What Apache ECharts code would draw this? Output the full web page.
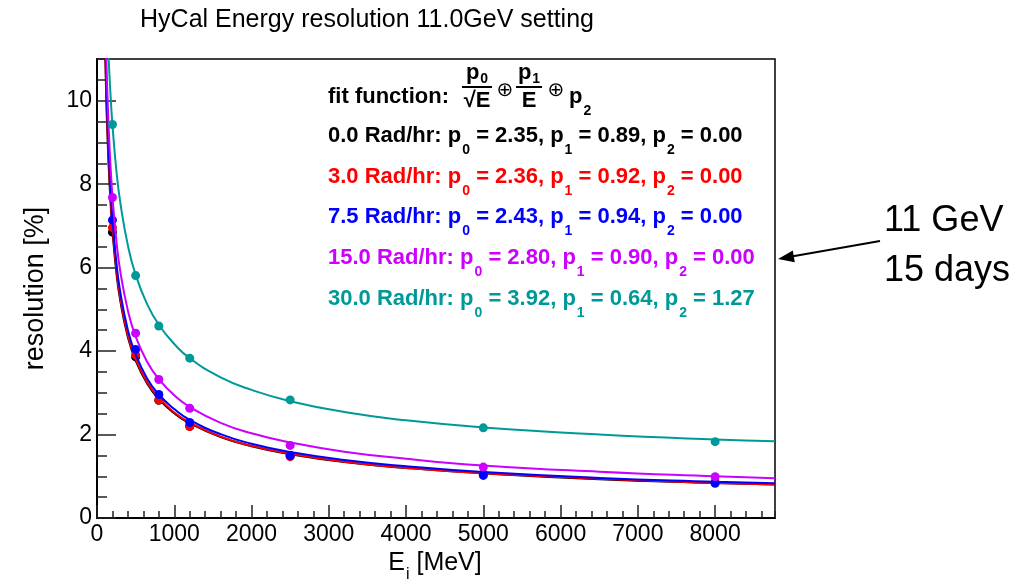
<!DOCTYPE html>
<html>
<head>
<meta charset="utf-8">
<script src="https://cdn.jsdelivr.net/npm/echarts@6/dist/echarts.min.js"></script>
<style>
  html, body { margin: 0; padding: 0; background: #fff; }
  #main { width: 1032px; height: 579px; }
</style>
</head>
<body>
<div id="main"></div>
<script>
// measured points (x in MeV, resolution in %)
var energies = [200, 500, 800, 1200, 2500, 5000, 8000];
var res00 = [6.85, 3.86, 2.82, 2.20, 1.50, 1.05, 0.85];
var res30 = [6.96, 3.91, 2.83, 2.19, 1.47, 1.05, 0.85];
var res75 = [7.14, 4.04, 2.96, 2.29, 1.49, 1.02, 0.83];
var res150 = [7.68, 4.43, 3.32, 2.63, 1.74, 1.22, 0.99];
var res300 = [9.43, 5.81, 4.60, 3.83, 2.83, 2.16, 1.83];

// fit curves read along x
var curveE = [100, 120, 140, 160, 180, 200, 250, 300, 400, 500, 650, 800, 1000, 1200, 1600, 2000, 2500, 3200, 4000, 5000, 6500, 8000, 8775];
var fit00 = [11.59, 10.05, 8.94, 8.09, 7.42, 6.89, 5.90, 5.22, 4.33, 3.77, 3.22, 2.85, 2.51, 2.27, 1.94, 1.72, 1.53, 1.34, 1.20, 1.07, 0.93, 0.84, 0.80];
var fit30 = [11.85, 10.26, 9.11, 8.24, 7.55, 7.00, 5.99, 5.29, 4.38, 3.81, 3.25, 2.88, 2.53, 2.29, 1.95, 1.73, 1.54, 1.35, 1.20, 1.07, 0.94, 0.84, 0.80];
var fit75 = [12.14, 10.52, 9.34, 8.45, 7.75, 7.18, 6.14, 5.43, 4.50, 3.92, 3.34, 2.96, 2.61, 2.35, 2.01, 1.78, 1.58, 1.39, 1.24, 1.10, 0.96, 0.87, 0.83];
var fit150 = [12.63, 11.03, 9.87, 8.98, 8.28, 7.71, 6.66, 5.93, 4.97, 4.35, 3.74, 3.33, 2.94, 2.66, 2.28, 2.03, 1.81, 1.59, 1.42, 1.26, 1.11, 1.00, 0.95];
var fit300 = [14.01, 12.57, 11.50, 10.66, 9.98, 9.42, 8.34, 7.58, 6.53, 5.83, 5.12, 4.63, 4.17, 3.83, 3.37, 3.07, 2.80, 2.54, 2.34, 2.17, 2.00, 1.88, 1.84];

// fit parameters shown in the text box
var radLabels = ['0.0', '3.0', '7.5', '15.0', '30.0'];
var p0 = ['2.35', '2.36', '2.43', '2.80', '3.92'];
var p1 = ['0.89', '0.92', '0.94', '0.90', '0.64'];
var p2 = ['0.00', '0.00', '0.00', '0.00', '1.27'];
var colors = ['#000000', '#ff0000', '#0000ff', '#cc00ff', '#009999'];

var FONT = '"Liberation Sans", Arial, Helvetica, sans-serif';

function zip(xs, ys) {
    return xs.map(function (x, i) { return [x, ys[i]]; });
}

var pts = [res00, res30, res75, res150, res300];
var fits = [fit00, fit30, fit75, fit150, fit300];

var series = [];
for (var k = 0; k < 5; k++) {
    series.push({
        type: 'line',
        data: zip(curveE, fits[k]),
        showSymbol: false,
        smooth: true,
        clip: true,
        lineStyle: { color: colors[k], width: 2 },
        z: 2 + k
    });
    series.push({
        type: 'scatter',
        data: zip(energies, pts[k]),
        symbolSize: 9,
        itemStyle: { color: colors[k], opacity: 1 },
        z: 2 + k
    });
}

// text box lines
var rich = {
    m: { fontSize: 22, fontWeight: 'bold', fontFamily: FONT, lineHeight: 22, verticalAlign: 'top' },
    s: { fontSize: 14, fontWeight: 'bold', fontFamily: FONT, lineHeight: 14, verticalAlign: 'top', padding: [18, 0, 0, 1] }
};
var lineTops = [125, 166, 206, 247, 288];
var graphics = [];
for (var j = 0; j < 5; j++) {
    graphics.push({
        type: 'text', x: 328, y: lineTops[j],
        style: {
            text: '{m|' + radLabels[j] + ' Rad/hr: p}{s|0}{m| = ' + p0[j] + ', p}{s|1}{m| = ' + p1[j] + ', p}{s|2}{m| = ' + p2[j] + '}',
            fill: colors[j], rich: rich, textVerticalAlign: 'top'
        }
    });
}

var bold22 = 'bold 22px ' + FONT;
var richNum = {
    m: { fontSize: 22, fontWeight: 'bold', fontFamily: FONT, lineHeight: 22, verticalAlign: 'top' },
    s: { fontSize: 14, fontWeight: 'bold', fontFamily: FONT, lineHeight: 14, verticalAlign: 'top', padding: [10, 0, 0, 1] }
};
graphics = graphics.concat([
    { type: 'text', x: 328, y: 97, style: { text: 'fit function:', font: bold22, fill: '#000', textVerticalAlign: 'middle' } },
    { type: 'text', x: 477, y: 62, style: { text: '{m|p}{s|0}', rich: richNum, fill: '#000', textAlign: 'center', textVerticalAlign: 'top' } },
    { type: 'line', shape: { x1: 462, y1: 87, x2: 492, y2: 87 }, style: { stroke: '#000', lineWidth: 2 } },
    { type: 'text', x: 477, y: 101, style: { text: '\u221AE', font: bold22, fill: '#000', textAlign: 'center', textVerticalAlign: 'middle' } },
    { type: 'text', x: 505, y: 91, style: { text: '\u2295', font: '20px "DejaVu Sans", sans-serif', fill: '#000', textAlign: 'center', textVerticalAlign: 'middle' } },
    { type: 'text', x: 529, y: 62, style: { text: '{m|p}{s|1}', rich: richNum, fill: '#000', textAlign: 'center', textVerticalAlign: 'top' } },
    { type: 'line', shape: { x1: 516, y1: 87, x2: 542, y2: 87 }, style: { stroke: '#000', lineWidth: 2 } },
    { type: 'text', x: 529, y: 101, style: { text: 'E', font: bold22, fill: '#000', textAlign: 'center', textVerticalAlign: 'middle' } },
    { type: 'text', x: 556, y: 91, style: { text: '\u2295', font: '20px "DejaVu Sans", sans-serif', fill: '#000', textAlign: 'center', textVerticalAlign: 'middle' } },
    { type: 'text', x: 569, y: 86, style: { text: '{m|p}{s|2}', rich: rich, fill: '#000', textVerticalAlign: 'top' } },

    // title
    { type: 'text', x: 367, y: 20, style: { text: 'HyCal Energy resolution 11.0GeV setting', font: '25px ' + FONT, fill: '#000', textAlign: 'center', textVerticalAlign: 'middle' } },
    // x axis title
    { type: 'text', x: 435, y: 551, style: {
        text: '{a|E}{b|i}{a| [MeV]}', textAlign: 'center', textVerticalAlign: 'top', fill: '#000',
        rich: {
            a: { fontSize: 25, fontFamily: FONT, lineHeight: 25, verticalAlign: 'top' },
            b: { fontSize: 16, fontFamily: FONT, lineHeight: 16, verticalAlign: 'top', padding: [16, 0, 0, 1] }
        }
    } },
    // annotation
    { type: 'text', x: 884, y: 221, style: { text: '11 GeV', font: '36px ' + FONT, fill: '#000', textVerticalAlign: 'middle' } },
    { type: 'text', x: 884, y: 271, style: { text: '15 days', font: '36px ' + FONT, fill: '#000', textVerticalAlign: 'middle' } },
    { type: 'line', shape: { x1: 880, y1: 241, x2: 793, y2: 256.3 }, style: { stroke: '#000', lineWidth: 2 } },
    { type: 'polygon', shape: { points: [[778, 259], [794.8, 262.3], [792.8, 250.5]] }, style: { fill: '#000' } }
]);

var myChart = echarts.init(document.getElementById('main'), null, { renderer: 'canvas' });

var tickStyle = { color: '#222', width: 1.5 };
var labelStyle = { fontSize: 23, color: '#000', fontFamily: FONT };

var option = {
    animation: false,
    backgroundColor: '#fff',
    grid: { left: 97, right: 257, top: 59, bottom: 61, show: true, borderColor: '#000', borderWidth: 1.5, backgroundColor: 'transparent' },
    xAxis: [{
        type: 'value', min: 0, max: 8775, interval: 1000, position: 'bottom',
        axisLine: { lineStyle: { color: '#000', width: 2 } },
        axisTick: { inside: true, length: 13, lineStyle: tickStyle },
        axisLabel: { showMaxLabel: false, margin: 5, formatter: function (v) { return String(v); }, ...labelStyle },
        splitLine: { show: false }
    }, {
        type: 'value', min: 0, max: 8775, interval: 200, position: 'bottom',
        axisLine: { show: false },
        axisTick: { inside: true, length: 7, lineStyle: tickStyle },
        axisLabel: { show: false },
        splitLine: { show: false }
    }],
    yAxis: [{
        type: 'value', min: 0, max: 11, interval: 2, position: 'left',
        name: 'resolution [%]', nameLocation: 'middle', nameGap: 48, nameRotate: 90,
        nameTextStyle: { fontSize: 27, color: '#000', fontFamily: FONT },
        axisLine: { lineStyle: { color: '#000', width: 2 } },
        axisTick: { inside: true, length: 19, lineStyle: tickStyle },
        axisLabel: { showMaxLabel: false, margin: 5, ...labelStyle },
        splitLine: { show: false }
    }, {
        type: 'value', min: 0, max: 11, interval: 0.5, position: 'left',
        axisLine: { show: false },
        axisTick: { inside: true, length: 10, lineStyle: tickStyle },
        axisLabel: { show: false },
        splitLine: { show: false }
    }],
    series: series,
    graphic: graphics
};

myChart.setOption(option);
</script>
</body>
</html>
